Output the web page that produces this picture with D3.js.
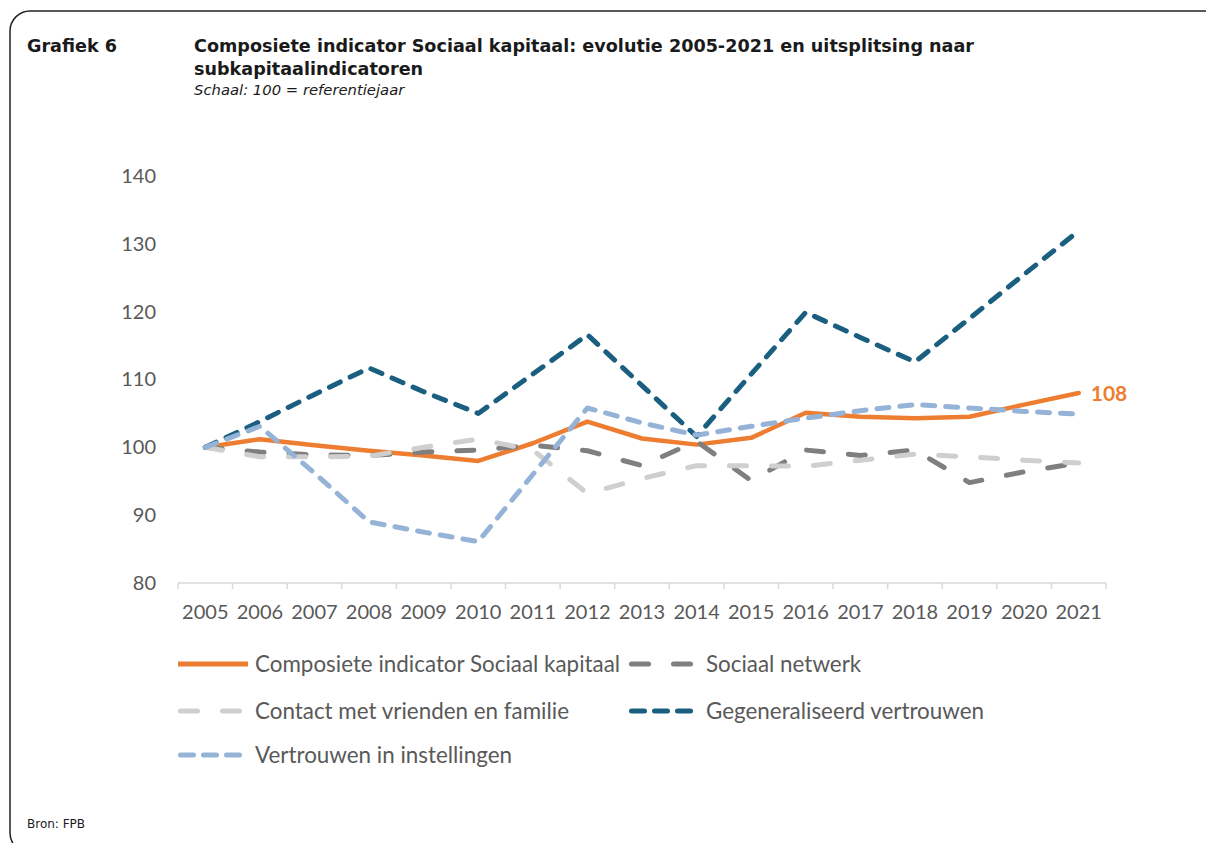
<!DOCTYPE html>
<html>
<head>
<meta charset="utf-8">
<script src="https://cdn.jsdelivr.net/npm/d3@7"></script>
<style>
  body { margin: 0; background: #fff; }
  svg { display: block; }
</style>
</head>
<body>
<div id="chart"></div>
<script>
// values, scale 100 = 2005
const years = ["2005","2006","2007","2008","2009","2010","2011","2012","2013","2014","2015","2016","2017","2018","2019","2020","2021"];
const composite  = [100, 101.2, 100.3, 99.5, 98.8, 98.0, 100.6, 103.8, 101.3, 100.4, 101.4, 105.1, 104.5, 104.3, 104.5, 106.3, 108.0];
const sociaal    = [100, 99.3, 98.9, 98.8, 99.3, 99.6, 100.3, 99.5, 97.3, 100.9, 95.1, 99.6, 98.8, 99.6, 94.8, 96.4, 97.7];
const contact    = [100, 98.6, 98.6, 98.7, 100.0, 101.2, 99.6, 93.2, 95.4, 97.3, 97.3, 97.2, 98.1, 99.0, 98.6, 98.1, 97.7];
const generaal   = [100, 103.8, 107.8, 111.7, 108.2, 105.0, 110.8, 116.6, 109.1, 101.6, 110.8, 119.9, 116.2, 112.6, 119.0, 125.5, 131.9];
const instelling = [100, 103.1, 96.2, 89.0, 87.5, 86.1, 96.0, 105.8, 103.6, 101.8, 103.1, 104.3, 105.4, 106.3, 105.8, 105.3, 104.9];
const yTicks = [80, 90, 100, 110, 120, 130, 140];
const seriesNames = ["Composiete indicator Sociaal kapitaal", "Sociaal netwerk", "Contact met vrienden en familie", "Gegeneraliseerd vertrouwen", "Vertrouwen in instellingen"];

const width = 1206, height = 843;
const series = [
    { name: seriesNames[0], values: composite,  color: "#ED7D31", dash: null,    legDash: null },
    { name: seriesNames[1], values: sociaal,    color: "#7F7F7F", dash: "17,25", legDash: "17,25" },
    { name: seriesNames[2], values: contact,    color: "#D0CFCF", dash: "17,25", legDash: "17,25" },
    { name: seriesNames[3], values: generaal,   color: "#1A5F80", dash: "12,11", legDash: "13,10" },
    { name: seriesNames[4], values: instelling, color: "#95B3D7", dash: "12,11", legDash: "13,10" }
];

const tickFont = "Lato, 'Open Sans', sans-serif";
const titleFont = "'DejaVu Sans', sans-serif";

const svg = d3.select("#chart").append("svg")
    .attr("width", width)
    .attr("height", height)
    .attr("viewBox", [0, 0, width, height]);

// frame, only top and left corners are visible
svg.append("rect")
    .attr("x", 10).attr("y", 11)
    .attr("width", 1240).attr("height", 842)
    .attr("rx", 20)
    .attr("fill", "none")
    .attr("stroke", "#222")
    .attr("stroke-width", 1.5);

// titles
svg.append("text")
    .attr("x", 27).attr("y", 52)
    .style("font", `bold 17.6px ${titleFont}`)
    .attr("fill", "#1a1a1a")
    .text("Grafiek 6");
svg.append("text")
    .attr("x", 194).attr("y", 52)
    .style("font", `bold 17.6px ${titleFont}`)
    .attr("fill", "#1a1a1a")
    .text("Composiete indicator Sociaal kapitaal: evolutie 2005-2021 en uitsplitsing naar");
svg.append("text")
    .attr("x", 194).attr("y", 75)
    .style("font", `bold 17.6px ${titleFont}`)
    .attr("fill", "#1a1a1a")
    .text("subkapitaalindicatoren");
svg.append("text")
    .attr("x", 194).attr("y", 95)
    .style("font", `italic 14.8px ${titleFont}`)
    .attr("fill", "#1a1a1a")
    .text("Schaal: 100 = referentiejaar");
svg.append("text")
    .attr("x", 27).attr("y", 828)
    .style("font", `12px ${titleFont}`)
    .attr("fill", "#1a1a1a")
    .text("Bron: FPB");

// scales
const x = d3.scaleBand().domain(years).range([178, 1106]).paddingInner(0).paddingOuter(0);
const y = d3.scaleLinear().domain([80, 140]).range([583, 176]);
const cx = d => x(d) + x.bandwidth() / 2;

// y labels
svg.append("g")
    .attr("transform", "translate(156,0)")
    .call(d3.axisLeft(y).tickValues(yTicks).tickSize(0).tickPadding(0))
    .call(g => g.select(".domain").remove())
    .call(g => g.selectAll("text")
        .attr("fill", "#595959")
        .style("font", `20px ${tickFont}`));

// x axis with ticks on category boundaries
const xAxis = svg.append("g").attr("transform", "translate(0,583)");
xAxis.append("line")
    .attr("x1", x.range()[0]).attr("x2", x.range()[1])
    .attr("stroke", "#D9D9D9").attr("stroke-width", 1.5);
xAxis.selectAll("line.tick")
    .data(years.concat(["end"]))
    .join("line")
    .attr("class", "tick")
    .attr("x1", d => d === "end" ? x.range()[1] : x(d))
    .attr("x2", d => d === "end" ? x.range()[1] : x(d))
    .attr("y1", 0).attr("y2", 6)
    .attr("stroke", "#D9D9D9").attr("stroke-width", 1.5);
svg.append("g")
    .attr("transform", "translate(0,583)")
    .call(d3.axisBottom(x).tickSize(0).tickPadding(22))
    .call(g => g.select(".domain").remove())
    .call(g => g.selectAll("text")
        .attr("fill", "#595959")
        .style("font", `20px ${tickFont}`));

// lines
const line = d3.line()
    .x((d, i) => cx(years[i]))
    .y(d => y(d));

svg.append("g")
    .attr("fill", "none")
    .selectAll("path")
    .data(series)
    .join("path")
        .attr("d", d => line(d.values))
        .attr("stroke", d => d.color)
        .attr("stroke-width", d => d.dash ? 5 : 4.5)
        .attr("stroke-dasharray", d => d.dash)
        .attr("stroke-linecap", "round")
        .attr("stroke-linejoin", "round");

// end label of the composite
svg.append("text")
    .attr("x", cx(years[years.length - 1]) + 12)
    .attr("y", y(composite[composite.length - 1]) + 8)
    .attr("fill", "#ED7D31")
    .style("font", `bold 21px ${tickFont}`)
    .text(d3.format(".0f")(composite[composite.length - 1]));

// legend
const legPos = [[178, 664], [629, 664], [178, 711], [629, 711], [178, 755]];
const leg = svg.append("g")
    .selectAll("g")
    .data(series)
    .join("g")
        .attr("transform", (d, i) => `translate(${legPos[i][0]},${legPos[i][1]})`);

leg.append("line")
    .attr("x1", d => d.dash ? 2.5 : 0)
    .attr("x2", d => d.dash ? 64 : 70)
    .attr("stroke", d => d.color)
    .attr("stroke-width", 5)
    .attr("stroke-dasharray", d => d.legDash)
    .attr("stroke-linecap", d => d.dash ? "round" : "butt");

leg.append("text")
    .attr("x", 77)
    .attr("y", 7.5)
    .attr("fill", "#595959")
    .style("font", `22.4px ${tickFont}`)
    .text(d => d.name);
</script>
</body>
</html>
